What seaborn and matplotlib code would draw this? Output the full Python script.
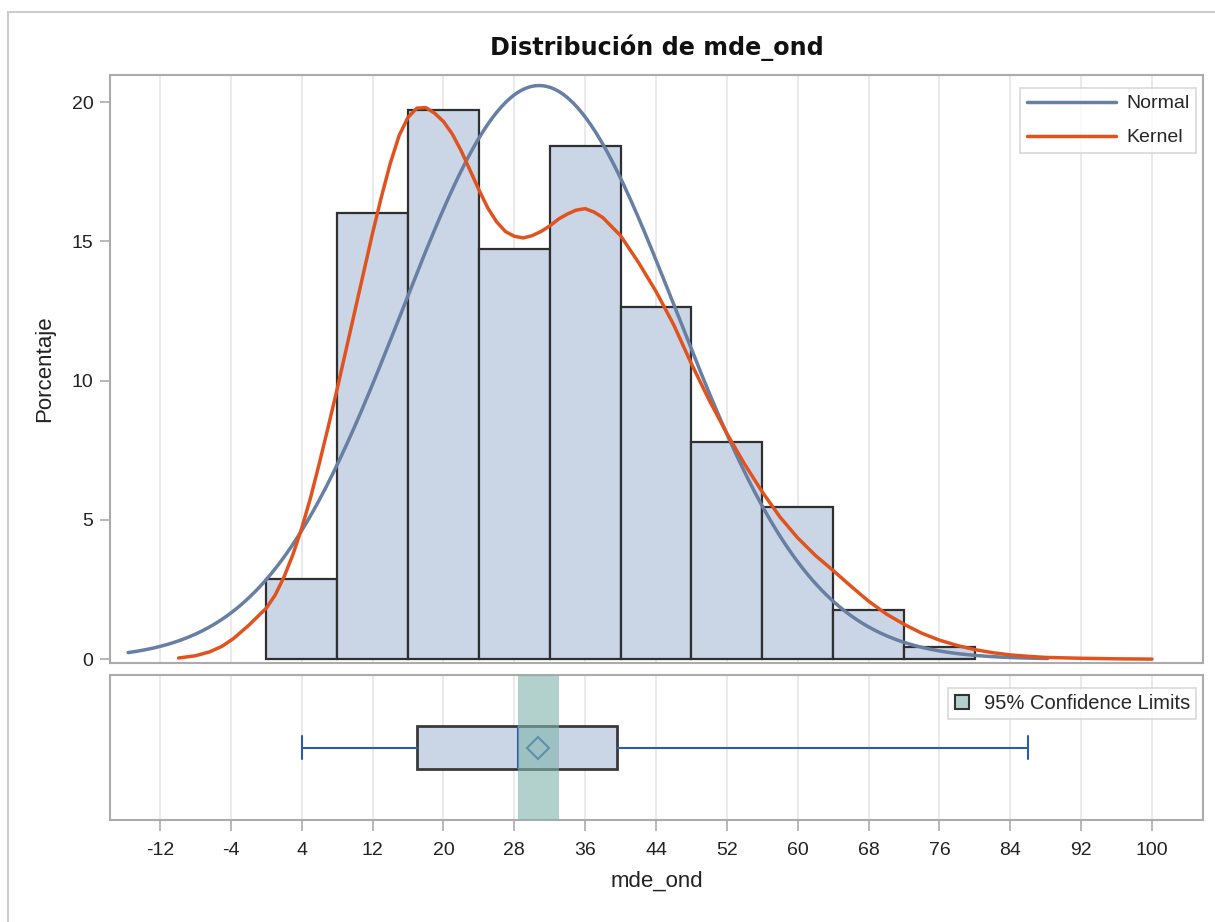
import numpy as np
import pandas as pd
import matplotlib
matplotlib.use("Agg")
import matplotlib.pyplot as plt
from matplotlib.patches import Rectangle, Patch
from matplotlib.lines import Line2D
import seaborn as sns

# Histogram of mde_ond: 8-unit bins, percent of observations in each bin
bin_edges = [0, 8, 16, 24, 32, 40, 48, 56, 64, 72, 80]
bin_percent = [2.87, 16.01, 19.70, 14.72, 18.41, 12.63, 7.79, 5.46, 1.76, 0.43]

# Fitted normal distribution
normal_mu = 30.8
normal_sigma = 15.5
normal_span = (-15.6, 88.2)

# Kernel density estimate, expressed in percent per bin
kernel_x = [-9.9, -8.0, -6.4, -5.0, -3.7, -2.0, 0, 1, 2, 3, 4, 5, 6, 7, 8, 9, 10,
            11, 12, 13, 14, 15, 16, 17, 18, 19, 20, 21, 22, 23, 24, 25, 26, 27,
            28, 29, 30, 31, 32, 33, 34, 35, 36, 37, 38, 40, 42, 44, 46, 48, 50,
            52, 54, 56, 58, 60, 62, 64, 66, 68, 70, 72, 74, 76, 78, 80, 82, 84,
            86, 88, 92, 96, 100]
kernel_pct = [0.04, 0.12, 0.26, 0.46, 0.74, 1.21, 1.83, 2.30, 2.95, 3.75, 4.70,
              5.80, 7.05, 8.35, 9.70, 11.1, 12.5, 13.9, 15.3, 16.6, 17.8, 18.8,
              19.45, 19.78, 19.80, 19.60, 19.30, 18.85, 18.25, 17.55, 16.85, 16.2,
              15.7, 15.35, 15.18, 15.12, 15.2, 15.35, 15.55, 15.8, 15.98, 16.12,
              16.17, 16.05, 15.85, 15.2, 14.25, 13.2, 12.0, 10.6, 9.3, 8.1, 7.0,
              6.0, 5.1, 4.35, 3.72, 3.18, 2.62, 2.08, 1.62, 1.25, 0.93, 0.68,
              0.49, 0.34, 0.23, 0.15, 0.10, 0.06, 0.03, 0.01, 0.0]

# Box plot summary and 95% confidence limits for the mean
box_min, box_q1, box_median, box_q3, box_max = 4.0, 17.0, 28.4, 39.6, 86.0
box_mean = 30.7
ci_low, ci_high = 28.4, 33.1

x_ticks = list(range(-12, 101, 8))
y_ticks = [0, 5, 10, 15, 20]

BAR_FILL = "#CAD5E5"
BAR_EDGE = "#2f2f2f"
NORMAL_COLOR = "#667FA2"
KERNEL_COLOR = "#E0531F"
WHISKER_COLOR = "#2A5CAA"
BAND_COLOR = "#7FB3AD"
FRAME_COLOR = "#ababab"
GRID_COLOR = "#e6e6e6"

sns.set_theme(style="white")
plt.rcParams["font.family"] = ["Liberation Sans", "DejaVu Sans"]

fig = plt.figure(figsize=(12.15, 9.22), dpi=100)
W, H = 1215, 922


def axes_rect(left, top, right, bottom):
    return [left / W, 1 - bottom / H, (right - left) / W, (bottom - top) / H]


ax = fig.add_axes(axes_rect(110, 75, 1203, 663))
ax2 = fig.add_axes(axes_rect(110, 675, 1203, 820), sharex=ax)

# ---- histogram panel ----
centers = [(a + b) / 2 for a, b in zip(bin_edges[:-1], bin_edges[1:])]
hist_df = pd.DataFrame({"mde_ond": centers, "pct": bin_percent})
sns.histplot(data=hist_df, x="mde_ond", weights="pct", bins=bin_edges, stat="count",
             color=BAR_FILL, edgecolor=BAR_EDGE, linewidth=1.6, alpha=1.0, ax=ax, zorder=2)

bin_width = bin_edges[1] - bin_edges[0]
nx = np.linspace(normal_span[0], normal_span[1], 400)
ny = 100 * bin_width * np.exp(-0.5 * ((nx - normal_mu) / normal_sigma) ** 2) / (normal_sigma * np.sqrt(2 * np.pi))
sns.lineplot(x=nx, y=ny, ax=ax, color=NORMAL_COLOR, linewidth=2.5, zorder=3, sort=False)
sns.lineplot(x=kernel_x, y=kernel_pct, ax=ax, color=KERNEL_COLOR, linewidth=2.5, zorder=4, sort=False)

xlim = (-17.65, 105.76)
ax.set_xlim(*xlim)
ax.set_ylim(-0.14, 20.97)
ax.set_xticks(x_ticks)
ax.set_yticks(y_ticks)
ax.set_yticklabels([str(v) for v in y_ticks])
ax.tick_params(axis="x", length=0, labelbottom=False)
ax.tick_params(axis="y", left=True, length=7, width=1.2, color=FRAME_COLOR,
               labelsize=14, pad=5, labelcolor="#222222")
ax.set_xlabel("")
ax.set_ylabel("Porcentaje", fontsize=16, color="#222222", labelpad=12)
ax.grid(axis="x", color=GRID_COLOR, linewidth=1.2)
ax.grid(axis="y", visible=False)
ax.set_axisbelow(True)

leg_handles = [Line2D([0], [0], color=NORMAL_COLOR, lw=2.5),
               Line2D([0], [0], color=KERNEL_COLOR, lw=2.5)]
leg = ax.legend(leg_handles, ["Normal", "Kernel"], loc="upper right", fontsize=14,
                handlelength=4.6, handletextpad=0.5, borderpad=0.35, labelspacing=0.85,
                fancybox=False, frameon=True, borderaxespad=0,
                bbox_to_anchor=(0.9936, 0.978))
leg.get_frame().set_edgecolor("#cfcfcf")
leg.get_frame().set_linewidth(1.2)

# ---- box plot panel ----
stats = [dict(whislo=box_min, q1=box_q1, med=box_median, q3=box_q3, whishi=box_max,
              mean=box_mean, fliers=[])]
ax2.bxp(stats, positions=[0.5], widths=0.3, orientation="horizontal", showmeans=True,
        patch_artist=True, manage_ticks=False, capwidths=0.16,
        boxprops=dict(facecolor=BAR_FILL, edgecolor="#3a3a3a", linewidth=2),
        medianprops=dict(color=WHISKER_COLOR, linewidth=1.5),
        whiskerprops=dict(color=WHISKER_COLOR, linewidth=1.5),
        capprops=dict(color=WHISKER_COLOR, linewidth=1.5),
        meanprops=dict(marker="D", markerfacecolor="none", markeredgecolor=WHISKER_COLOR,
                       markersize=11.5, markeredgewidth=1.5))
ax2.axvspan(ci_low, ci_high, color=BAND_COLOR, alpha=0.6, lw=0, zorder=5)
ax2.set_ylim(0, 1)
ax2.set_yticks([])
ax2.set_xticks(x_ticks)
ax2.set_xticklabels([str(v) for v in x_ticks])
ax2.tick_params(axis="x", bottom=True, length=8, width=1.2, color=FRAME_COLOR,
                labelsize=14, pad=8, labelcolor="#222222")
ax2.set_xlabel("mde_ond", fontsize=16, color="#222222", labelpad=8)
ax2.set_ylabel("")
ax2.grid(axis="x", color=GRID_COLOR, linewidth=1.2)
ax2.grid(axis="y", visible=False)
ax2.set_axisbelow(True)

leg2 = ax2.legend([Patch(facecolor="#B2D1CE", edgecolor="#333333", linewidth=1.5)],
                  ["95% Confidence Limits"], loc="upper right", fontsize=14.5,
                  handlelength=0.7, handleheight=0.7, handletextpad=0.75, borderpad=0.3,
                  fancybox=False, frameon=True, borderaxespad=0,
                  bbox_to_anchor=(0.9936, 0.91))
leg2.get_frame().set_edgecolor("#cfcfcf")
leg2.get_frame().set_linewidth(1.2)

for a in (ax, ax2):
    for s in a.spines.values():
        s.set_visible(True)
        s.set_color(FRAME_COLOR)
        s.set_linewidth(1.5)

fig.text(657 / W, 1 - 48 / H, "Distribución de mde_ond", ha="center", va="center",
         fontsize=17.2, fontweight="bold", family=["DejaVu Sans"], color="#111111")

# outer graph border
fig.patches.append(Rectangle((8 / W, -0.05), 1.1, 1 - 12 / H + 0.05, transform=fig.transFigure,
                             fill=False, edgecolor="#cccccc", linewidth=1.5))

fig.savefig("out.png", dpi=100)
